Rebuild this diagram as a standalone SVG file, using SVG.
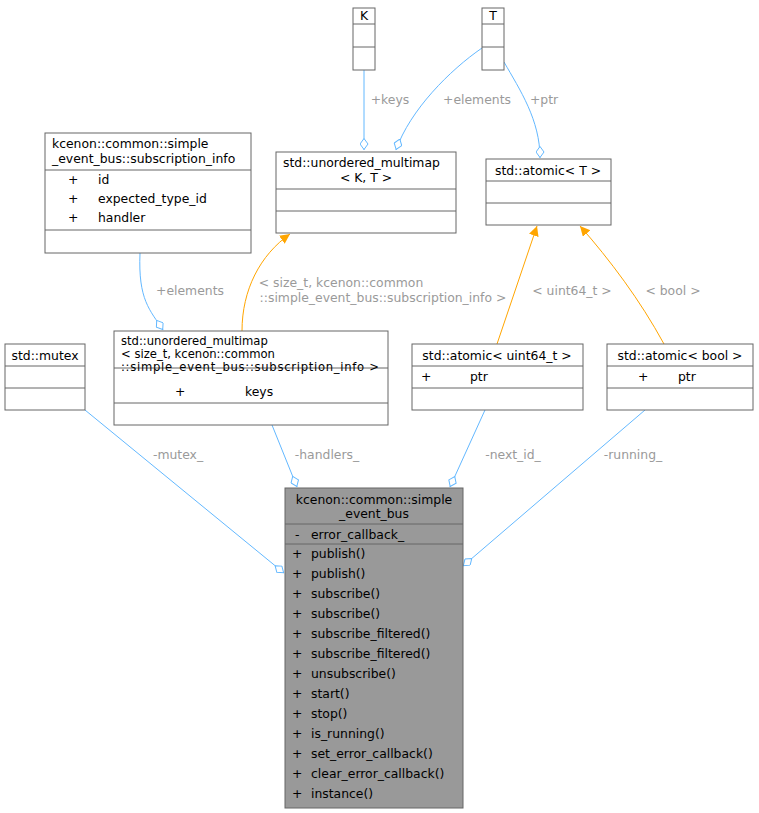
<svg xmlns="http://www.w3.org/2000/svg" width="759" height="813" viewBox="0 0 759 813">
<style>
text{font-family:"DejaVu Sans","Liberation Sans",sans-serif;font-size:12.4px;fill:#000}
.b{fill:#fff;stroke:#666;stroke-width:1}
.l{fill:none;stroke:#666;stroke-width:1}
.lb{fill:#9a9a9a}
.e{fill:none;stroke:#63b8ff;stroke-width:1}
.o{fill:none;stroke:#ffa500;stroke-width:1}
.s{font-size:11.6px}
</style>
<defs>
<marker id="d" markerUnits="userSpaceOnUse" markerWidth="13" markerHeight="9" refX="12" refY="4.5" orient="auto"><path d="M0.5,4.5 L6,0.5 L11.5,4.5 L6,8.5 z" fill="#fff" stroke="#63b8ff"/></marker>
<marker id="t" markerUnits="userSpaceOnUse" markerWidth="11" markerHeight="11" refX="10" refY="5" orient="auto"><path d="M0,0 L10,5 L0,10 z" fill="#ffa500"/></marker>
</defs>
<g id="edges">
<path class="e" d="M364,70 L364,150" marker-end="url(#d)"/>
<text class="lb" x="390" y="104" text-anchor="middle">+keys</text>
<path class="e" d="M482,48 C450,70 410,110 396,150" marker-end="url(#d)"/>
<text class="lb" x="477" y="104" text-anchor="middle">+elements</text>
<path class="e" d="M504,62 C520,90 540,120 540,158" marker-end="url(#d)"/>
<text class="lb" x="544" y="104" text-anchor="middle">+ptr</text>
<path class="e" d="M140,253 C138,300 150,310 163,330" marker-end="url(#d)"/>
<text class="lb" x="190" y="295" text-anchor="middle">+elements</text>
<path class="o" d="M242,331 C242,290 260,255 290,234" marker-end="url(#t)"/>
<text class="lb" x="341" y="287" text-anchor="middle">&lt; size_t, kcenon::common</text>
<text class="lb" x="383" y="302" text-anchor="middle">::simple_event_bus::subscription_info &gt;</text>
<path class="o" d="M497,344 L537,226" marker-end="url(#t)"/>
<text class="lb" x="572" y="295" text-anchor="middle">&lt; uint64_t &gt;</text>
<path class="o" d="M664,344 C640,300 610,260 580,226" marker-end="url(#t)"/>
<text class="lb" x="673" y="295" text-anchor="middle">&lt; bool &gt;</text>
<path class="e" d="M85,410 L284,573" marker-end="url(#d)"/>
<text class="lb" x="178" y="459" text-anchor="middle">-mutex_</text>
<path class="e" d="M272,425 L297,487" marker-end="url(#d)"/>
<text class="lb" x="327" y="459" text-anchor="middle">-handlers_</text>
<path class="e" d="M485,410 L450,487" marker-end="url(#d)"/>
<text class="lb" x="513" y="459" text-anchor="middle">-next_id_</text>
<path class="e" d="M645,410 L463,566" marker-end="url(#d)"/>
<text class="lb" x="633" y="459" text-anchor="middle">-running_</text>
</g>
<g id="K"><rect class="b" x="353" y="8" width="22" height="62"/><path class="l" d="M353,24H375M353,47H375"/><text x="364" y="20" text-anchor="middle">K</text></g>
<g id="T"><rect class="b" x="482" y="8" width="22" height="62"/><path class="l" d="M482,24H504M482,47H504"/><text x="493" y="20" text-anchor="middle">T</text></g>
<g id="subinfo"><rect class="b" x="45" y="133" width="206" height="120"/><path class="l" d="M45,170H251M45,230H251"/>
<text x="52" y="148">kcenon::common::simple</text><text x="52" y="163">_event_bus::subscription_info</text>
<text x="68" y="184">+</text><text x="98" y="184">id</text>
<text x="68" y="203">+</text><text x="98" y="203">expected_type_id</text>
<text x="68" y="222">+</text><text x="98" y="222">handler</text></g>
<g id="mmKT"><rect class="b" x="276" y="152" width="180" height="81"/><path class="l" d="M276,189H456M276,211H456"/>
<text x="283" y="167">std::unordered_multimap</text><text x="366" y="182" text-anchor="middle">&lt; K, T &gt;</text></g>
<g id="atomicT"><rect class="b" x="486" y="159" width="125" height="66"/><path class="l" d="M486,181H611M486,203H611"/><text x="548" y="175" text-anchor="middle">std::atomic&lt; T &gt;</text></g>
<g id="mutex"><rect class="b" x="5" y="344" width="80" height="66"/><path class="l" d="M5,366H85M5,388H85"/><text x="45" y="360" text-anchor="middle">std::mutex</text></g>
<g id="mmSize"><rect class="b" x="114" y="331" width="274" height="94"/><path class="l" d="M114,368H388M114,403H388"/>
<text class="s" x="121" y="345">std::unordered_multimap</text><text class="s" x="121" y="358">&lt; size_t, kcenon::common</text>
<text class="s" x="121" y="371" textLength="258">::simple_event_bus::subscription_info &gt;</text>
<text x="175" y="396">+</text><text x="245" y="396">keys</text></g>
<g id="atomicU"><rect class="b" x="412" y="344" width="171" height="66"/><path class="l" d="M412,366H583M412,388H583"/>
<text x="497" y="360" text-anchor="middle">std::atomic&lt; uint64_t &gt;</text><text x="421" y="381">+</text><text x="470" y="381">ptr</text></g>
<g id="atomicB"><rect class="b" x="607" y="344" width="146" height="66"/><path class="l" d="M607,366H753M607,388H753"/>
<text x="680" y="360" text-anchor="middle">std::atomic&lt; bool &gt;</text><text x="638" y="381">+</text><text x="678" y="381">ptr</text></g>
<g id="main"><rect x="285" y="488" width="178" height="320" fill="#999" stroke="#666"/><path class="l" d="M285,524H463M285,544H463"/>
<text x="374" y="504" text-anchor="middle">kcenon::common::simple</text><text x="374" y="518" text-anchor="middle">_event_bus</text>
<text x="295" y="539">-</text><text x="311" y="539">error_callback_</text>
<g>
<text x="292" y="558">+</text><text x="311" y="558">publish()</text>
<text x="292" y="578">+</text><text x="311" y="578">publish()</text>
<text x="292" y="598">+</text><text x="311" y="598">subscribe()</text>
<text x="292" y="618">+</text><text x="311" y="618">subscribe()</text>
<text x="292" y="638">+</text><text x="311" y="638">subscribe_filtered()</text>
<text x="292" y="658">+</text><text x="311" y="658">subscribe_filtered()</text>
<text x="292" y="678">+</text><text x="311" y="678">unsubscribe()</text>
<text x="292" y="698">+</text><text x="311" y="698">start()</text>
<text x="292" y="718">+</text><text x="311" y="718">stop()</text>
<text x="292" y="738">+</text><text x="311" y="738">is_running()</text>
<text x="292" y="758">+</text><text x="311" y="758">set_error_callback()</text>
<text x="292" y="778">+</text><text x="311" y="778">clear_error_callback()</text>
<text x="292" y="798">+</text><text x="311" y="798">instance()</text>
</g></g>
</svg>
